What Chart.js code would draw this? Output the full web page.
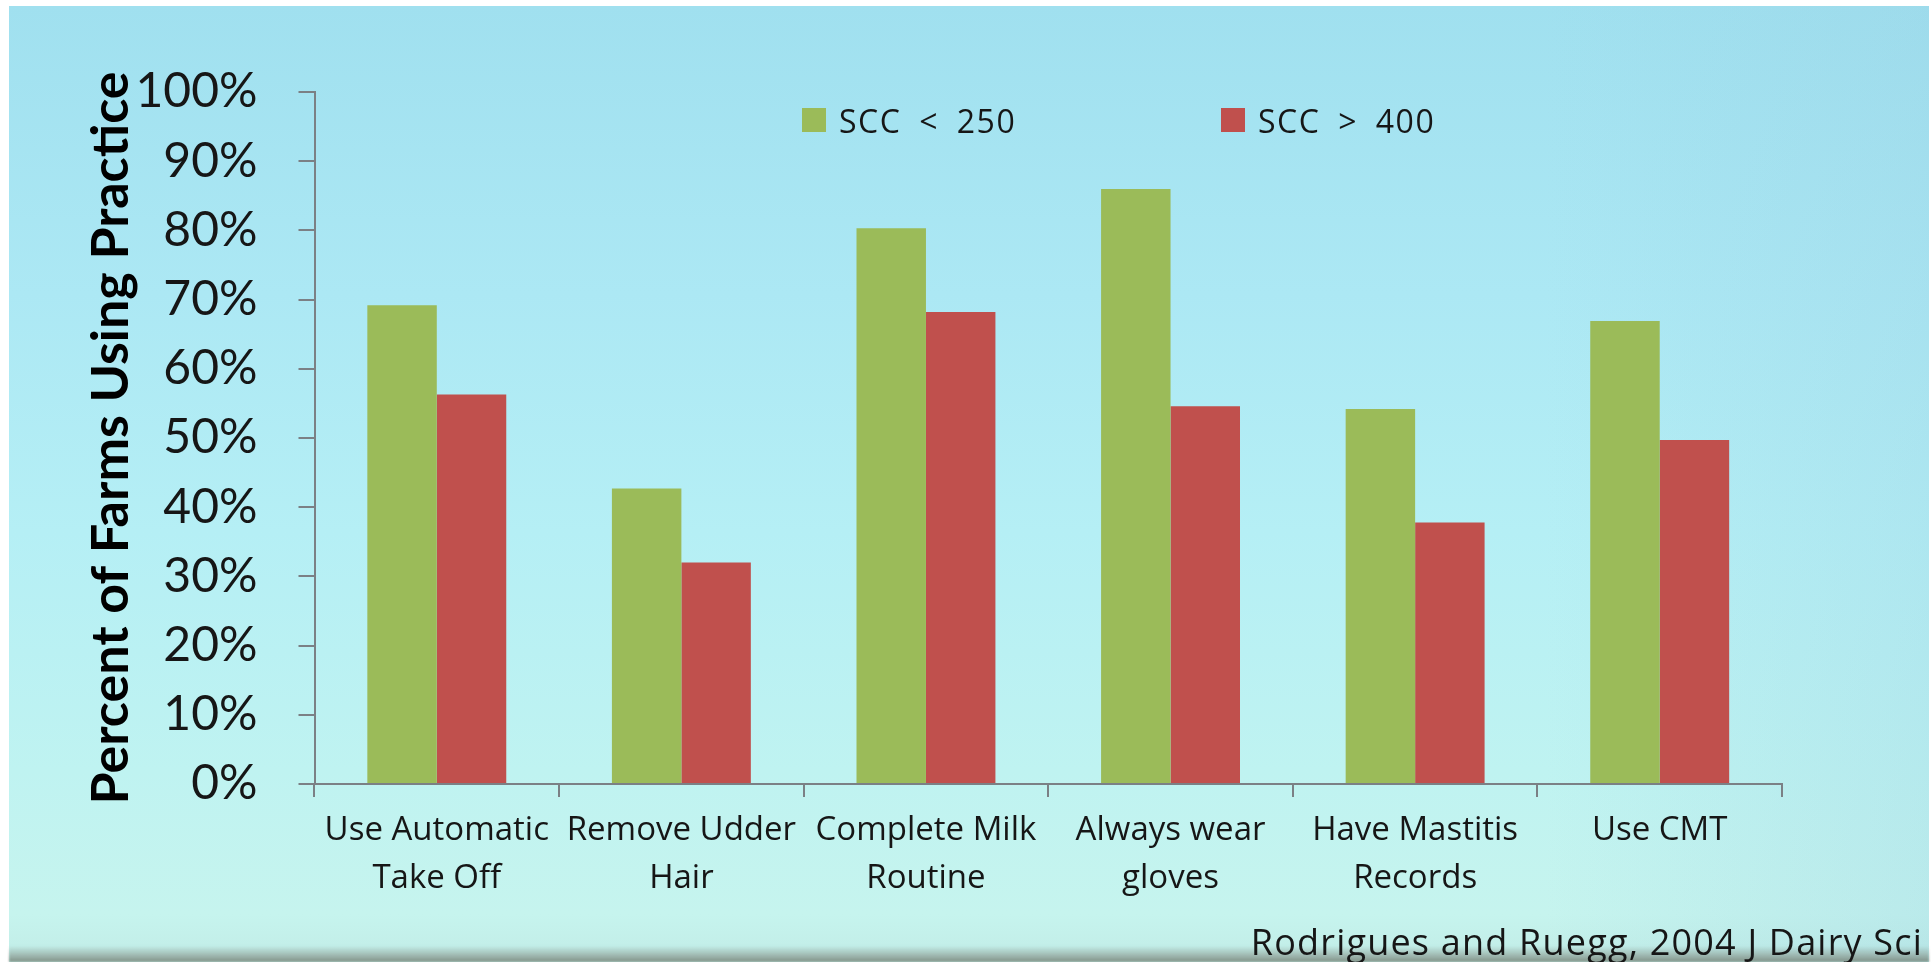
<!DOCTYPE html>
<html>
<head>
<meta charset="utf-8">
<script src="https://cdn.jsdelivr.net/npm/chart.js@4.4.1/dist/chart.umd.min.js"></script>
<style>
  html, body { margin: 0; padding: 0; background: #ffffff; overflow: hidden; }
  #stage { position: relative; width: 1931px; height: 962px; }
  #sky {
    position: absolute; left: 9px; top: 6px; width: 1920px; height: 956px;
    background:
      linear-gradient(to right, rgba(150,205,225,0.0) 80%, rgba(150,205,225,0.25) 100%),
      linear-gradient(to bottom, #a0e0ef 0%, #ace8f4 30%, #b5eff5 55%, #bff3f1 80%, #c6f4ee 95%, #c1ece6 100%);
  }
  #horizon {
    position: absolute; left: 9px; bottom: 0; width: 1920px; height: 16px;
    background: linear-gradient(to bottom, rgba(150,165,160,0) 0%, rgba(135,148,138,0.55) 55%, rgba(115,124,112,0.8) 100%);
    filter: blur(1px);
  }
  #wrap { position: absolute; left: 0; top: 0; width: 1931px; height: 962px; }
</style>
</head>
<body>
<div id="stage">
  <div id="sky"></div>
  <div id="horizon"></div>
  <div id="wrap"><canvas id="chart"></canvas></div>
</div>
<script>
// Practices on farms grouped by bulk-tank somatic cell count
const categories = [
  ['Use Automatic', 'Take Off'],
  ['Remove Udder', 'Hair'],
  ['Complete Milk', 'Routine'],
  ['Always wear', 'gloves'],
  ['Have Mastitis', 'Records'],
  ['Use CMT']
];
const seriesNames = ['SCC < 250', 'SCC > 400'];
const lowSccFarms  = [69.2, 42.7, 80.3, 86.0, 54.2, 66.9];
const highSccFarms = [56.3, 32.0, 68.2, 54.6, 37.8, 49.7];
const yTicks = [0, 10, 20, 30, 40, 50, 60, 70, 80, 90, 100];
const yTitle = 'Percent of Farms Using Practice';
const citation = 'Rodrigues and Ruegg, 2004 J Dairy Sci';

const GREEN = '#9bbb59';
const RED = '#c0504d';
const AXIS = '#7b8085';
const INK = '#161616';

// Legend row and source note, painted on the canvas after the chart
const annotations = {
  id: 'annotations',
  afterDraw(chart) {
    const ctx = chart.ctx;
    const swatchX = [802, 1221];
    ctx.save();
    ctx.font = '32px "Open Sans"';
    ctx.letterSpacing = '1.5px';
    ctx.wordSpacing = '8px';
    ctx.textBaseline = 'alphabetic';
    ctx.textAlign = 'left';
    chart.data.datasets.forEach((ds, i) => {
      const x = swatchX[i];
      ctx.fillStyle = ds.backgroundColor;
      ctx.fillRect(x, 108, 24, 24);
      ctx.fillStyle = INK;
      ctx.fillText(ds.label, x + 37, 132.5);
    });
    ctx.font = '36px "Open Sans"';
    ctx.letterSpacing = '1.2px';
    ctx.wordSpacing = '0px';
    ctx.textAlign = 'right';
    ctx.fillText(citation, 1923, 955);
    ctx.restore();
  }
};

new Chart(document.getElementById('chart'), {
  type: 'bar',
  data: {
    labels: categories,
    datasets: [
      { label: seriesNames[0], data: lowSccFarms, backgroundColor: GREEN },
      { label: seriesNames[1], data: highSccFarms, backgroundColor: RED }
    ]
  },
  options: {
    responsive: true,
    maintainAspectRatio: false,
    animation: false,
    categoryPercentage: 0.568,
    barPercentage: 1.0,
    layout: { padding: { left: 70, right: 149, top: 92, bottom: 0 } },
    plugins: {
      legend: { display: false },
      tooltip: { enabled: false }
    },
    scales: {
      x: {
        offset: true,
        grid: {
          display: true,
          offset: true,
          drawOnChartArea: false,
          drawTicks: true,
          tickLength: 13,
          color: AXIS,
          lineWidth: 2
        },
        border: { display: true, color: AXIS, width: 2 },
        ticks: {
          color: INK,
          font: { family: '"Open Sans"', size: 33, lineHeight: 1.44 },
          padding: 10,
          maxRotation: 0,
          minRotation: 0,
          autoSkip: false
        },
        afterFit(scale) { scale.height = 178; }
      },
      y: {
        min: 0,
        max: 100,
        afterBuildTicks(scale) { scale.ticks = yTicks.map(v => ({ value: v })); },
        grid: {
          display: true,
          drawOnChartArea: false,
          drawTicks: true,
          tickLength: 16,
          color: AXIS,
          lineWidth: 2
        },
        border: { display: true, color: AXIS, width: 2 },
        ticks: {
          color: INK,
          font: { family: 'Lato', size: 48 },
          padding: 41,
          callback: v => v + '%'
        },
        title: {
          display: true,
          text: yTitle,
          color: '#000000',
          font: { family: 'Lato', size: 52, weight: 'bold', lineHeight: 1.2 },
          padding: { top: 10, bottom: 0 }
        },
        afterFit(scale) { scale.width = 244.5; }
      }
    }
  },
  plugins: [annotations]
});
</script>
</body>
</html>
